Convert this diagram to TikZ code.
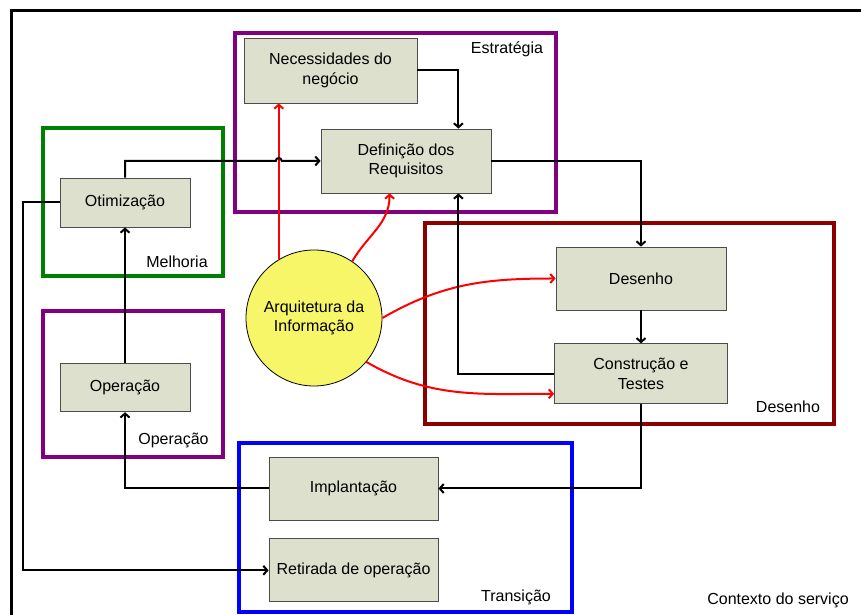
\documentclass[tikz,border=0pt]{standalone}
\usepackage{fontspec}
\setmainfont{Liberation Sans}
\usetikzlibrary{positioning,arrows.meta,calc}

\definecolor{phasefill}{RGB}{221,224,204}
\definecolor{arqfill}{RGB}{246,246,104}
\definecolor{desred}{RGB}{140,0,0}

\begin{document}
\begin{tikzpicture}[
    x=1pt, y=1pt,
    every node/.style={font=\fontsize{16}{19.5}\selectfont},
    phase/.style={draw=black!70, line width=0.8pt, fill=phasefill, align=center,
        minimum width=170pt, minimum height=63pt, inner sep=2pt},
    stage/.style={line width=3.5pt},
    flow/.style={draw=black, line width=2pt, -{Straight Barb[length=4pt,width=9pt]}},
    infl/.style={draw=red, line width=2pt, -{Straight Barb[length=4pt,width=9pt]}}
    ]
    \useasboundingbox (0,0) rectangle (861,615);
    \clip (0,0) rectangle (861,615);

    %% Service context
    \draw[line width=3pt] (11,-20) rectangle (900,604);
    \node (ctx) at (778,15) {Contexto do serviço};

    %% Strategy
    \draw[stage, draw=violet] (235,403) rectangle (556,582);
    \node (estlbl) at (507,566) {Estratégia};
    \node[phase, minimum width=173pt, minimum height=65pt](nec) at (330.5,544.5) {Necessidades do\\negócio};
    \node[phase, minimum height=64pt](def) at (406,454) {Definição dos\\Requisitos};

    %% Improvement
    \draw[stage, draw=green!50!black] (43,339) rectangle (223,487);
    \node (melbl) at (177,353) {Melhoria};
    \node[phase, minimum width=130pt, minimum height=49pt](otm) at (125,412.5) {Otimização};

    %% Operation
    \draw[stage, draw=violet] (43,158) rectangle (223,304);
    \node (oplbl) at (173.5,175) {Operação};
    \node[phase, minimum width=130pt, minimum height=48pt](opr)[below=136pt of otm] {Operação};

    %% Design
    \draw[stage, draw=desred] (425,191) rectangle (834,392);
    \node (deslbl) at (788,208) {Desenho};
    \node[phase](des) at (641,336.5) {Desenho};
    \node[phase, minimum width=173pt, minimum height=60pt](con)[below=33pt of des] {Construção e\\Testes};

    %% Transition
    \draw[stage, draw=blue] (239,3) rectangle (572,172);
    \node (trlbl) at (516,18) {Transição};
    \node[phase, minimum width=169pt](imp) at (353.5,126.5) {Implantação};
    \node[phase, minimum width=169pt](ret)[below=18pt of imp] {Retirada de operação};

    %% Information architecture
    \node[circle, draw=black, line width=0.8pt, fill=arqfill, minimum size=136pt,
        inner sep=0pt, align=center](arq) at (314,297) {Arquitetura da\\Informação};

    % influence of the architecture
    \draw[infl] (arq.121) -- (arq.121 |- nec.south);
    \draw[infl] (arq.56) to[out=60,in=-90] ([xshift=69pt]def.south west);
    \draw[infl] (arq.east) to[out=30,in=180] (des.west);
    \draw[infl] (arq.-40) to[out=-30,in=180] ([yshift=-20pt]con.west);

    % service lifecycle
    \draw[flow] (nec.east) -| ([xshift=-33pt]def.north east);
    \draw[flow] (otm.north) |- ($(def.west -| arq.121)+(-3,0)$)
        arc[start angle=180, end angle=0, radius=3pt] -- (def.west); % hop over red line
    \draw[flow] (def.east) -| (des.north);
    \draw[flow] (des.south) -- (con.north);
    \draw[flow] (con.west) -| ([xshift=-33pt]def.south east);
    \draw[flow] (con.south) |- (imp.east);
    \draw[flow] (imp.west) -| (opr.south);
    \draw[flow] (opr.north) -- (otm.south);
    \draw[flow] (otm.west) -- ++(-37,0) |- (ret.west);
\end{tikzpicture}
\end{document}
